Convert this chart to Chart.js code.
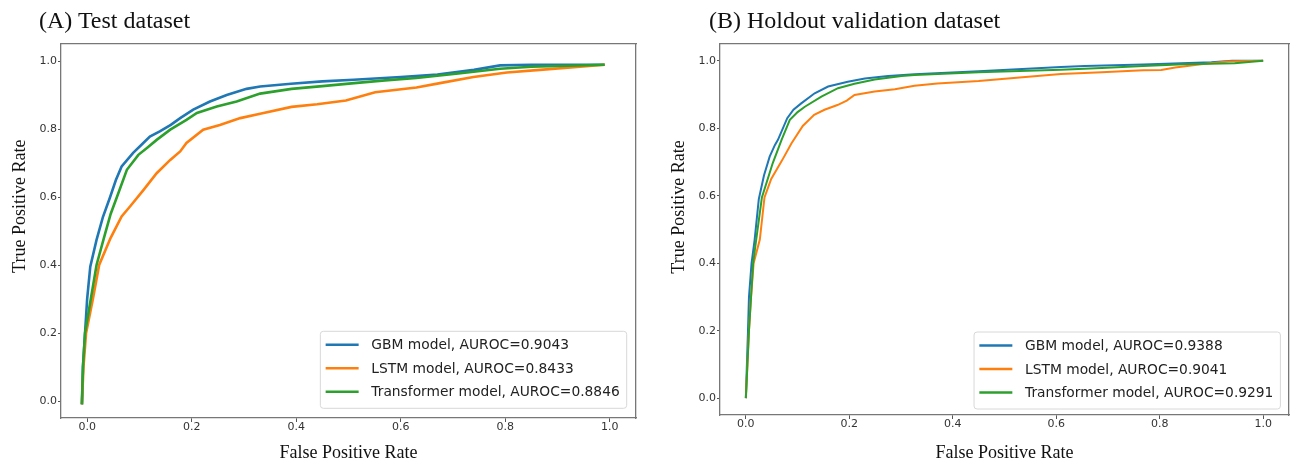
<!DOCTYPE html>
<html>
<head>
<meta charset="utf-8">
<script src="https://cdn.jsdelivr.net/npm/chart.js@4.4.0/dist/chart.umd.min.js"></script>
<style>
  html, body { margin: 0; padding: 0; background: #fff; }
  #wrap { position: relative; width: 1295px; height: 463px; overflow: hidden; }
  .panel { position: absolute; top: 0; height: 463px; }
  .panel canvas { position: absolute; top: 0; left: 0; }
  .ptitle { position: absolute; top: 8px; font-family: "Liberation Serif", serif; font-size: 24px; line-height: 24px; color: #111; white-space: nowrap; }
</style>
</head>
<body>
<div id="wrap">
  <div class="panel" style="left:0;width:650px">
    <canvas id="chartA" width="650" height="463"></canvas>
    <div class="ptitle" style="left:39px">(A) Test dataset</div>
  </div>
  <div class="panel" style="left:650px;width:645px">
    <canvas id="chartB" width="645" height="463"></canvas>
    <div class="ptitle" style="left:59px">(B) Holdout validation dataset</div>
  </div>
</div>
<script>
// tick labels and series
const tickVals = [0, 0.2, 0.4, 0.6, 0.8, 1.0];
const seriesNames = ['GBM model', 'LSTM model', 'Transformer model'];
const colors = ['#1f77b4', '#ff7f0e', '#2ca02c'];
const aurocA = [0.9043, 0.8433, 0.8846];
const aurocB = [0.9388, 0.9041, 0.9291];

// (A) test dataset
const gbmA_fpr = [-0.01, -0.008, -0.004, 0.0, 0.006, 0.018, 0.03, 0.044, 0.055, 0.066, 0.088, 0.105, 0.12, 0.139, 0.16, 0.178, 0.203, 0.235, 0.267, 0.305, 0.331, 0.39, 0.45, 0.51, 0.6, 0.67, 0.74, 0.79, 0.85, 0.92, 0.99];
const gbmA_tpr = [-0.01, 0.1, 0.2, 0.3, 0.395, 0.474, 0.54, 0.6, 0.65, 0.69, 0.73, 0.755, 0.778, 0.793, 0.812, 0.832, 0.857, 0.881, 0.9, 0.918, 0.925, 0.933, 0.94, 0.945, 0.953, 0.96, 0.974, 0.987, 0.989, 0.989, 0.989];
const lstmA_fpr = [-0.01, -0.007, -0.002, 0.011, 0.023, 0.045, 0.066, 0.082, 0.108, 0.133, 0.159, 0.178, 0.19, 0.222, 0.254, 0.293, 0.331, 0.391, 0.44, 0.495, 0.551, 0.63, 0.675, 0.739, 0.803, 0.866, 0.943, 0.99];
const lstmA_tpr = [-0.01, 0.1, 0.2, 0.3, 0.4, 0.48, 0.543, 0.572, 0.621, 0.67, 0.709, 0.734, 0.759, 0.798, 0.812, 0.832, 0.845, 0.865, 0.873, 0.884, 0.908, 0.922, 0.935, 0.953, 0.966, 0.974, 0.983, 0.989];
const trfA_fpr = [-0.01, -0.008, -0.004, 0.007, 0.018, 0.034, 0.045, 0.057, 0.076, 0.098, 0.115, 0.133, 0.159, 0.19, 0.21, 0.248, 0.286, 0.331, 0.391, 0.45, 0.511, 0.57, 0.63, 0.71, 0.79, 0.85, 0.92, 0.99];
const trfA_tpr = [-0.01, 0.1, 0.2, 0.3, 0.4, 0.49, 0.55, 0.6, 0.68, 0.724, 0.745, 0.768, 0.798, 0.827, 0.847, 0.866, 0.881, 0.904, 0.918, 0.926, 0.935, 0.943, 0.95, 0.963, 0.977, 0.983, 0.986, 0.989];

// (B) holdout validation dataset
const gbmB_fpr = [0, 0.002, 0.004, 0.006, 0.011, 0.017, 0.025, 0.035, 0.046, 0.056, 0.062, 0.08, 0.092, 0.107, 0.133, 0.159, 0.197, 0.23, 0.275, 0.326, 0.45, 0.609, 0.655, 0.768, 0.9, 0.94, 1.0];
const gbmB_tpr = [0, 0.1, 0.194, 0.3, 0.4, 0.47, 0.59, 0.66, 0.716, 0.75, 0.766, 0.83, 0.855, 0.874, 0.904, 0.924, 0.938, 0.948, 0.955, 0.96, 0.969, 0.982, 0.985, 0.989, 0.996, 1.0, 1.0];
const lstmB_fpr = [0, 0.003, 0.006, 0.01, 0.015, 0.027, 0.036, 0.049, 0.07, 0.088, 0.11, 0.132, 0.152, 0.177, 0.195, 0.21, 0.249, 0.288, 0.326, 0.37, 0.45, 0.529, 0.609, 0.688, 0.768, 0.803, 0.83, 0.88, 0.931, 1.0];
const lstmB_tpr = [0, 0.1, 0.2, 0.3, 0.4, 0.47, 0.595, 0.65, 0.705, 0.755, 0.807, 0.84, 0.855, 0.869, 0.882, 0.899, 0.909, 0.916, 0.926, 0.933, 0.94, 0.951, 0.961, 0.966, 0.972, 0.973, 0.98, 0.99, 0.998, 1.0];
const trfB_fpr = [0, 0.003, 0.006, 0.01, 0.014, 0.02, 0.031, 0.052, 0.069, 0.085, 0.1, 0.114, 0.146, 0.178, 0.21, 0.249, 0.301, 0.326, 0.45, 0.609, 0.688, 0.768, 0.847, 0.945, 1.0];
const trfB_tpr = [0, 0.1, 0.2, 0.3, 0.4, 0.47, 0.595, 0.697, 0.766, 0.825, 0.848, 0.864, 0.894, 0.919, 0.932, 0.945, 0.955, 0.958, 0.966, 0.974, 0.979, 0.985, 0.99, 0.993, 1.0];

function pts(xs, ys) {
    return xs.map((x, i) => ({ x: x, y: ys[i] }));
}

// legend box in the lower right corner, like matplotlib's loc="lower right"
const insideLegend = {
    id: 'insideLegend',
    afterDraw(chart, args, opts) {
        const ctx = chart.ctx;
        const area = chart.chartArea;
        const sets = chart.data.datasets;
        ctx.save();
        ctx.font = '13.8px "DejaVu Sans"';
        let w = 0;
        sets.forEach(d => { w = Math.max(w, ctx.measureText(d.label).width); });
        const bw = 51 + w + 7, bh = 77;
        const bx = area.right - opts.right - bw;
        const by = area.bottom - opts.bottom - bh;
        ctx.beginPath();
        ctx.roundRect(bx, by, bw, bh, 3);
        ctx.fillStyle = 'rgba(255,255,255,0.85)';
        ctx.fill();
        ctx.strokeStyle = '#d8d8d8';
        ctx.lineWidth = 1;
        ctx.stroke();
        ctx.textBaseline = 'middle';
        sets.forEach((d, i) => {
            const y = by + 13.5 + i * 23.5;
            ctx.strokeStyle = d.borderColor;
            ctx.lineWidth = 2.4;
            ctx.beginPath();
            ctx.moveTo(bx + 5.3, y);
            ctx.lineTo(bx + 38.3, y);
            ctx.stroke();
            ctx.fillStyle = '#222';
            ctx.fillText(d.label, bx + 51, y + 1);
        });
        ctx.restore();
    }
};

const tickFont = { family: 'DejaVu Sans', size: 11, lineHeight: 1 };
const axisTitleFont = { family: 'Liberation Serif', size: 18, lineHeight: 1.1 };
const boxLine = { display: true, color: '#777', width: 1.3 };

function makeChart(id, sets, auroc, lay) {
    return new Chart(document.getElementById(id), {
        type: 'scatter',
        data: {
            datasets: sets.map((s, i) => ({
                label: seriesNames[i] + ', AUROC=' + auroc[i].toFixed(4),
                data: pts(s[0], s[1]),
                showLine: true,
                borderColor: colors[i],
                backgroundColor: colors[i],
                borderWidth: lay.lw,
                pointRadius: 0,
                tension: 0,
                order: 2 - i
            }))
        },
        options: {
            responsive: false,
            animation: false,
            events: [],
            layout: { padding: { top: lay.top, right: lay.right, left: 0, bottom: 0 } },
            plugins: {
                legend: { display: false },
                tooltip: { enabled: false },
                insideLegend: { right: lay.lgRight, bottom: lay.lgBottom }
            },
            scales: {
                x: {
                    type: 'linear', position: 'bottom', min: -0.05, max: 1.05,
                    afterBuildTicks: sc => { sc.ticks = tickVals.map(v => ({ value: v })); },
                    afterFit: sc => { sc.height = lay.xh; },
                    ticks: { callback: v => v.toFixed(1), font: tickFont, color: '#333', padding: 0, maxRotation: 0, autoSkip: false },
                    grid: { drawOnChartArea: false, tickLength: 4, tickColor: '#555' },
                    border: boxLine,
                    title: { display: true, text: 'False Positive Rate', font: axisTitleFont, color: '#111', padding: { top: 0, bottom: 0 } }
                },
                y: {
                    type: 'linear', position: 'left', min: -0.05, max: 1.05,
                    afterBuildTicks: sc => { sc.ticks = tickVals.map(v => ({ value: v })); },
                    afterFit: sc => { sc.width = lay.yw; },
                    ticks: { callback: v => v.toFixed(1), font: tickFont, color: '#333', padding: 1, autoSkip: false },
                    grid: { drawOnChartArea: false, tickLength: 3, tickColor: '#555' },
                    border: boxLine,
                    title: { display: true, text: ' '.repeat(lay.ypad) + 'True Positive Rate', font: { family: 'Liberation Serif', size: 18, lineHeight: 1.2 }, color: '#111', padding: { top: lay.ytp, bottom: 0 } }
                },
                x2: {
                    type: 'linear', position: 'top', min: 0, max: 1,
                    ticks: { display: false }, grid: { display: false, drawTicks: false },
                    border: boxLine,
                    afterFit: sc => { sc.height = 0; }
                },
                y2: {
                    type: 'linear', position: 'right', min: 0, max: 1,
                    ticks: { display: false }, grid: { display: false, drawTicks: false },
                    border: boxLine,
                    afterFit: sc => { sc.width = 0; }
                }
            }
        },
        plugins: [insideLegend]
    });
}

makeChart('chartA',
    [[gbmA_fpr, gbmA_tpr], [lstmA_fpr, lstmA_tpr], [trfA_fpr, trfA_tpr]],
    aurocA,
    { top: 44, right: 14, xh: 45, yw: 61, ytp: 9, ypad: 11, lw: 2.6, lgRight: 9.3, lgBottom: 9.7 });

makeChart('chartB',
    [[gbmB_fpr, gbmB_tpr], [lstmB_fpr, lstmB_tpr], [trfB_fpr, trfB_tpr]],
    aurocB,
    { top: 44, right: 6, xh: 48, yw: 70, ytp: 18, ypad: 10, lw: 2, lgRight: 8.6, lgBottom: 6 });
</script>
</body>
</html>
